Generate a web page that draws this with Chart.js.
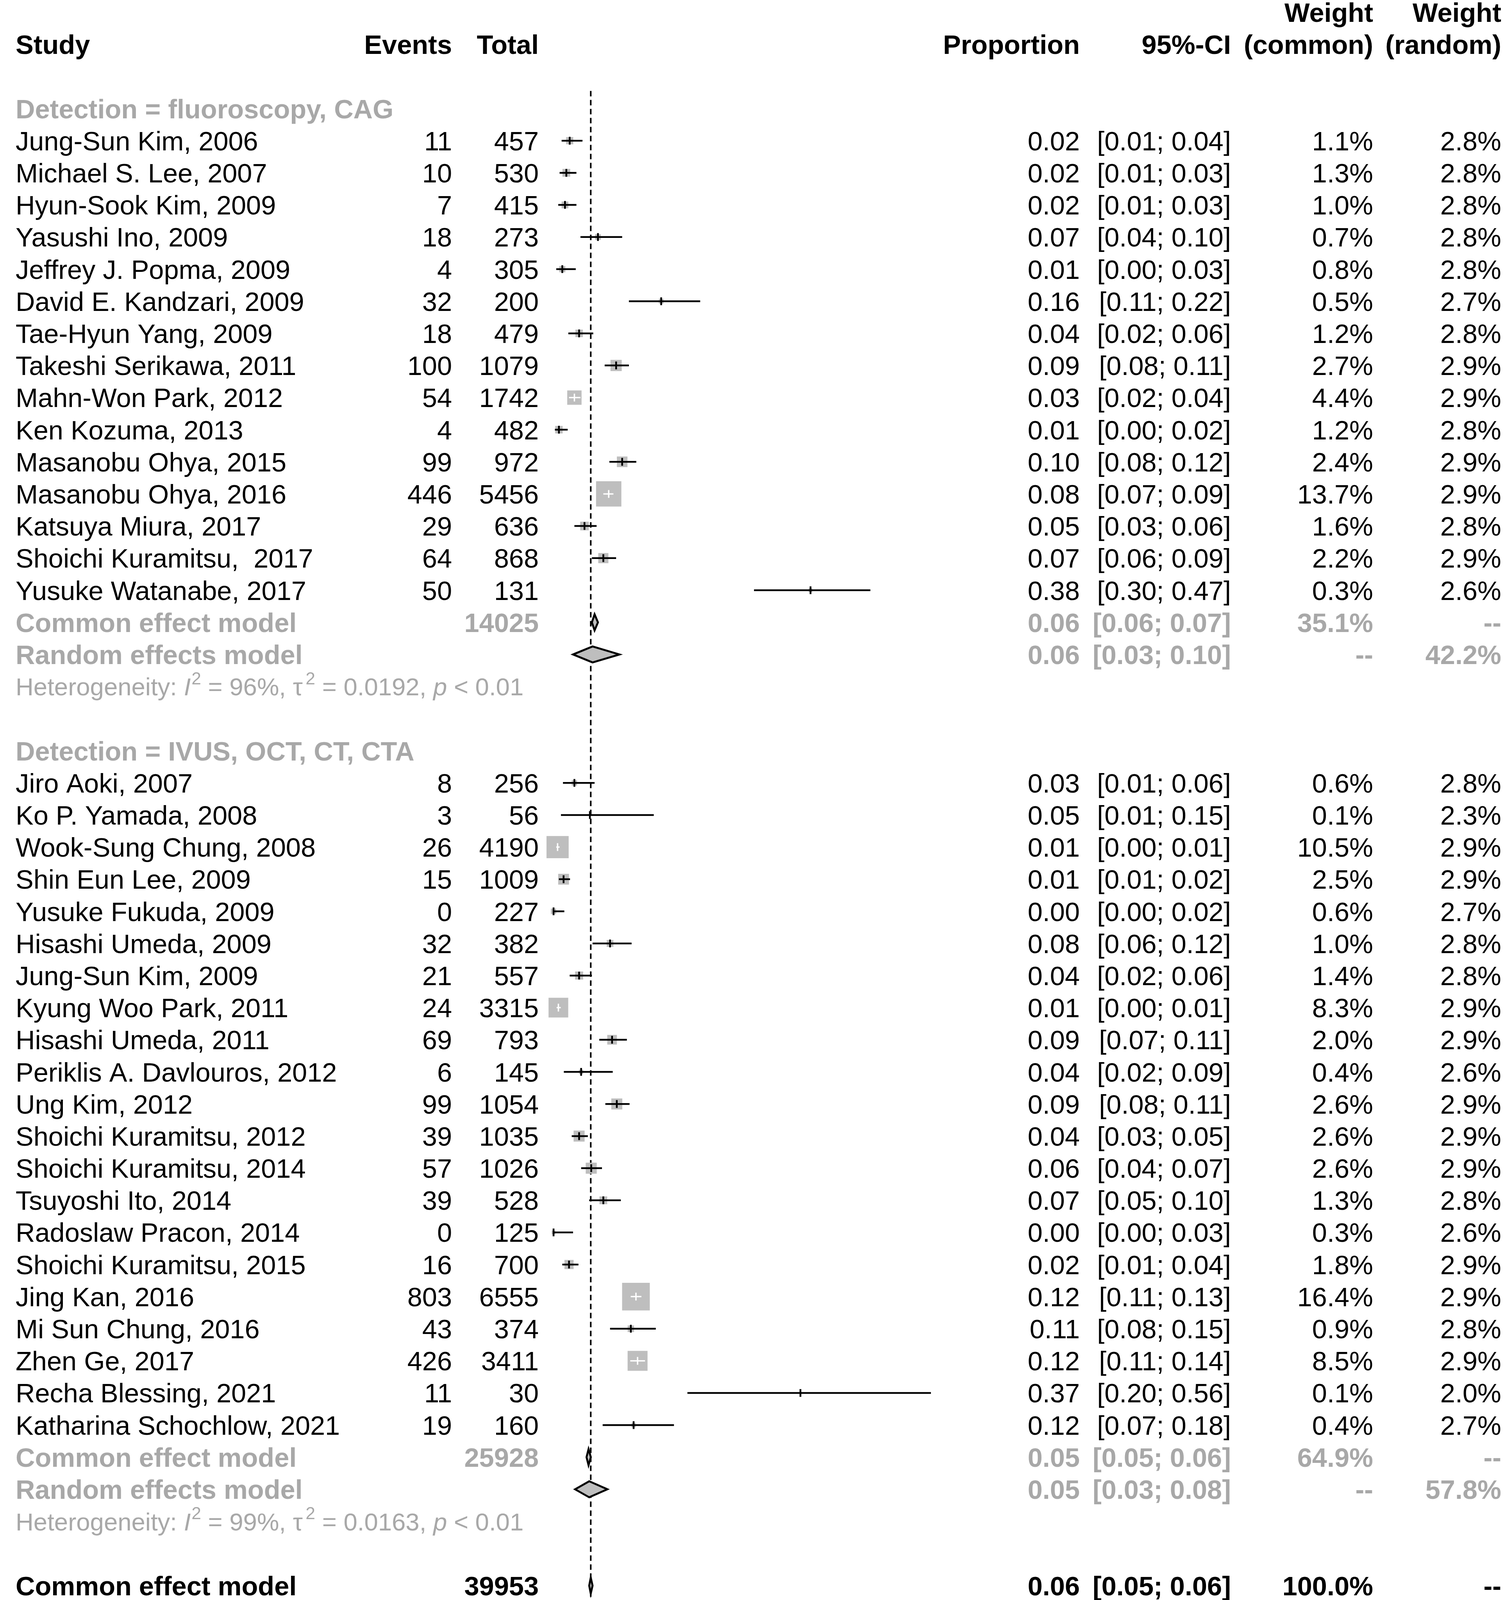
<!DOCTYPE html>
<html>
<head>
<meta charset="utf-8">
<script src="https://cdn.jsdelivr.net/npm/chart.js@4.4.1/dist/chart.umd.min.js"></script>
<style>
  html, body { margin: 0; padding: 0; background: #fff; }
  #wrap { width: 3850px; height: 4590px; }
</style>
</head>
<body>
<div id="wrap"><canvas id="forest" width="3850" height="4590"></canvas></div>
<script>
// ---- data: Detection = fluoroscopy, CAG ----
const names1 = ['Jung-Sun Kim, 2006', 'Michael S. Lee, 2007', 'Hyun-Sook Kim, 2009', 'Yasushi Ino, 2009',
  'Jeffrey J. Popma, 2009', 'David E. Kandzari, 2009', 'Tae-Hyun Yang, 2009', 'Takeshi Serikawa, 2011',
  'Mahn-Won Park, 2012', 'Ken Kozuma, 2013', 'Masanobu Ohya, 2015', 'Masanobu Ohya, 2016',
  'Katsuya Miura, 2017', 'Shoichi Kuramitsu,  2017', 'Yusuke Watanabe, 2017'];
const events1 = [11, 10, 7, 18, 4, 32, 18, 100, 54, 4, 99, 446, 29, 64, 50];
const totals1 = [457, 530, 415, 273, 305, 200, 479, 1079, 1742, 482, 972, 5456, 636, 868, 131];
const est1 = [0.024, 0.019, 0.017, 0.066, 0.013, 0.160, 0.038, 0.093, 0.031, 0.008, 0.102, 0.082, 0.046, 0.074, 0.382];
const lower1 = [0.012, 0.009, 0.007, 0.040, 0.004, 0.112, 0.022, 0.076, 0.023, 0.002, 0.083, 0.074, 0.031, 0.057, 0.298];
const upper1 = [0.043, 0.034, 0.034, 0.102, 0.033, 0.218, 0.059, 0.112, 0.040, 0.021, 0.123, 0.089, 0.064, 0.093, 0.471];
const wCommon1 = [1.1, 1.3, 1.0, 0.7, 0.8, 0.5, 1.2, 2.7, 4.4, 1.2, 2.4, 13.7, 1.6, 2.2, 0.3];
const wRandom1 = [2.8, 2.8, 2.8, 2.8, 2.8, 2.7, 2.8, 2.9, 2.9, 2.8, 2.9, 2.9, 2.8, 2.9, 2.6];

// ---- data: Detection = IVUS, OCT, CT, CTA ----
const names2 = ['Jiro Aoki, 2007', 'Ko P. Yamada, 2008', 'Wook-Sung Chung, 2008', 'Shin Eun Lee, 2009',
  'Yusuke Fukuda, 2009', 'Hisashi Umeda, 2009', 'Jung-Sun Kim, 2009', 'Kyung Woo Park, 2011',
  'Hisashi Umeda, 2011', 'Periklis A. Davlouros, 2012', 'Ung Kim, 2012', 'Shoichi Kuramitsu, 2012',
  'Shoichi Kuramitsu, 2014', 'Tsuyoshi Ito, 2014', 'Radoslaw Pracon, 2014', 'Shoichi Kuramitsu, 2015',
  'Jing Kan, 2016', 'Mi Sun Chung, 2016', 'Zhen Ge, 2017', 'Recha Blessing, 2021', 'Katharina Schochlow, 2021'];
const events2 = [8, 3, 26, 15, 0, 32, 21, 24, 69, 6, 99, 39, 57, 39, 0, 16, 803, 43, 426, 11, 19];
const totals2 = [256, 56, 4190, 1009, 227, 382, 557, 3315, 793, 145, 1054, 1035, 1026, 528, 125, 700, 6555, 374, 3411, 30, 160];
const est2 = [0.031, 0.054, 0.006, 0.0149, 0, 0.084, 0.038, 0.0072, 0.087, 0.041, 0.094, 0.038, 0.056, 0.074, 0, 0.023, 0.1225, 0.1149, 0.1249, 0.367, 0.119];
const lower2 = [0.014, 0.011, 0.004, 0.008, 0, 0.058, 0.024, 0.0046, 0.068, 0.0153, 0.077, 0.027, 0.041, 0.053, 0, 0.013, 0.1147, 0.084, 0.114, 0.199, 0.073];
const upper2 = [0.061, 0.149, 0.009, 0.0245, 0.016, 0.116, 0.057, 0.0107, 0.109, 0.088, 0.113, 0.051, 0.072, 0.100, 0.029, 0.037, 0.1306, 0.152, 0.136, 0.561, 0.179];
const wCommon2 = [0.6, 0.1, 10.5, 2.5, 0.6, 1.0, 1.4, 8.3, 2.0, 0.4, 2.6, 2.6, 2.6, 1.3, 0.3, 1.8, 16.4, 0.9, 8.5, 0.1, 0.4];
const wRandom2 = [2.8, 2.3, 2.9, 2.9, 2.7, 2.8, 2.8, 2.9, 2.9, 2.6, 2.9, 2.9, 2.9, 2.8, 2.6, 2.9, 2.9, 2.8, 2.9, 2.0, 2.7];

// ---- pooled: subgroup 1, subgroup 2, overall ----
const subgroupLabels = ['Detection = fluoroscopy, CAG', 'Detection = IVUS, OCT, CT, CTA'];
const pooledTotal = [14025, 25928, 39953];
const commonEst = [0.061, 0.052, 0.0553];
const commonLower = [0.057, 0.049, 0.053];
const commonUpper = [0.066, 0.0554, 0.058];
const randomEst = [0.058, 0.053, 0.056];
const randomLower = [0.029, 0.032, 0.036];
const randomUpper = [0.098, 0.080, 0.077];
const commonWeightSum = [35.1, 64.9, 100.0];
const randomWeightSum = [42.2, 57.8, 100.0];
const hetI2 = [96, 99, 98];
const hetTau2 = ['0.0192', '0.0163', '0.0171'];
const hetP = ['< 0.01', '< 0.01', '= 0'];

const testLabels = ['fixed effect', 'random effects'];
const testChi2 = ['9.98', '0.17'];
const testDf = [1, 1];
const testP = ['< 0.01', '= 0.68'];

const tickValues = [0, 0.1, 0.2, 0.3, 0.4, 0.5];
const tickLabels = ['0', '0.1', '0.2', '0.3', '0.4', '0.5'];

// ---- layout ----
const FONT = '"Liberation Sans", Arial, Helvetica, sans-serif';
const TXT = 68.5, HET = 63.5;
const BLACK = '#000000', GREY = '#a8a8a8', SQUARE = '#bebebe';
const col = { study: 40, events: 1157, total: 1379, prop: 2764, ci: 3151, wCommon: 3515, wRandom: 3843 };
const subRow = [0, 20], firstRow = [1, 21];
const commonRow = [16, 42, 46], randomRow = [17, 43, 47], hetRow = [18, 44, 48];
const testRow = [50.9, 51.9];
const headRow1 = -3, headRow2 = -2;

const groups = [
  { names: names1, events: events1, totals: totals1, est: est1, lo: lower1, hi: upper1, wc: wCommon1, wr: wRandom1 },
  { names: names2, events: events2, totals: totals2, est: est2, lo: lower2, hi: upper2, wc: wCommon2, wr: wRandom2 },
];

const f2 = v => v.toFixed(2);
const ciStr = (lo, hi) => '[' + f2(lo) + '; ' + f2(hi) + ']';
const pct = w => w.toFixed(1) + '%';
const boxSide = w => 17.5 * Math.sqrt(w);

const studyPoints = [];
groups.forEach((g, gi) => {
  g.names.forEach((n, i) => {
    studyPoints.push({ x: g.est[i], y: firstRow[gi] + i, lo: g.lo[i], hi: g.hi[i], w: g.wc[i] });
  });
});

function txt(ctx, s, x, y, size, opts) {
  opts = opts || {};
  ctx.font = (opts.bold ? 'bold ' : '') + size + 'px ' + FONT;
  ctx.fillStyle = opts.color || BLACK;
  ctx.textAlign = opts.align || 'left';
  ctx.textBaseline = 'alphabetic';
  ctx.fillText(s, x, y + size * 0.358);
}

function rich(ctx, parts, x, y, size, color) {
  let cx = x;
  const base = y + size * 0.358;
  ctx.fillStyle = color;
  ctx.textAlign = 'left';
  ctx.textBaseline = 'alphabetic';
  parts.forEach(p => {
    if (p.stack) {
      const s = size * 0.7;
      ctx.font = s + 'px ' + FONT;
      ctx.fillText(p.stack[0], cx, base - size * 0.45);
      ctx.fillText(p.stack[1], cx, base + size * 0.3);
      cx += Math.max(ctx.measureText(p.stack[0]).width, ctx.measureText(p.stack[1]).width);
      return;
    }
    const s = p.sup ? size * 0.7 : size;
    ctx.font = (p.it ? 'italic ' : '') + s + 'px ' + FONT;
    cx += (p.padL || 0) * size;
    ctx.fillText(p.t, cx, p.sup ? base - size * 0.45 : base);
    cx += ctx.measureText(p.t).width;
  });
}

function hetParts(i) {
  return [
    { t: 'Heterogeneity: ' }, { t: 'I', it: true }, { t: '2', sup: true, padL: 0.03 },
    { t: ' = ' + hetI2[i] + '%, ' }, { t: 'τ' }, { t: '2', sup: true, padL: 0.12 },
    { t: ' = ' + hetTau2[i] + ', ' }, { t: 'p', it: true }, { t: ' ' + hetP[i] },
  ];
}

function testParts(i) {
  return [
    { t: 'Test for subgroup differences (' + testLabels[i] + '): ' }, { t: 'χ' }, { stack: ['2', '1'] },
    { t: ' = ' + testChi2[i] + ', df = ' + testDf[i] + ' (' }, { t: 'p', it: true }, { t: ' ' + testP[i] + ')' },
  ];
}

function diamond(ctx, xs, ys, est, lo, hi, row) {
  const y = ys.getPixelForValue(row), h = 20.5;
  ctx.beginPath();
  ctx.moveTo(xs.getPixelForValue(lo), y);
  ctx.lineTo(xs.getPixelForValue(est), y - h);
  ctx.lineTo(xs.getPixelForValue(hi), y);
  ctx.lineTo(xs.getPixelForValue(est), y + h);
  ctx.closePath();
  ctx.fillStyle = SQUARE;
  ctx.fill();
  ctx.lineWidth = 5;
  ctx.strokeStyle = BLACK;
  ctx.lineJoin = 'miter';
  ctx.stroke();
}

const forestPlugin = {
  id: 'forest',
  beforeDatasetsDraw(chart) {
    const { ctx, scales: { x, y } } = chart;
    ctx.save();
    // reference line at the overall common effect estimate
    ctx.strokeStyle = BLACK;
    ctx.lineWidth = 4;
    ctx.setLineDash([14, 9]);
    const px = x.getPixelForValue(commonEst[2]);
    ctx.beginPath();
    ctx.moveTo(px, y.getPixelForValue(-0.55));
    ctx.lineTo(px, y.getPixelForValue(46.75));
    ctx.stroke();
    ctx.restore();
  },
  afterDatasetsDraw(chart) {
    const { ctx, scales: { x, y } } = chart;
    ctx.save();
    ctx.lineCap = 'butt';
    studyPoints.forEach(p => {
      const x1 = x.getPixelForValue(p.lo), x2 = x.getPixelForValue(p.hi);
      const xc = x.getPixelForValue(p.x), yc = y.getPixelForValue(p.y);
      const inside = boxSide(p.w) > (x2 - x1);
      ctx.strokeStyle = inside ? '#ffffff' : BLACK;
      ctx.lineWidth = inside ? 3.5 : 4.5;
      ctx.beginPath();
      ctx.moveTo(x1, yc); ctx.lineTo(x2, yc);
      ctx.moveTo(xc, yc - 10); ctx.lineTo(xc, yc + 10);
      ctx.stroke();
    });
    for (let k = 0; k < 3; k++) {
      diamond(ctx, x, y, commonEst[k], commonLower[k], commonUpper[k], commonRow[k]);
      diamond(ctx, x, y, randomEst[k], randomLower[k], randomUpper[k], randomRow[k]);
    }
    // axis line from 0 to 0.5
    ctx.strokeStyle = BLACK;
    ctx.lineWidth = 5;
    ctx.beginPath();
    ctx.moveTo(x.getPixelForValue(tickValues[0]) - 2, chart.chartArea.bottom);
    ctx.lineTo(x.getPixelForValue(tickValues[tickValues.length - 1]) + 2, chart.chartArea.bottom);
    ctx.stroke();
    ctx.restore();
  },
  afterDraw(chart) {
    const { ctx, scales: { y } } = chart;
    const Y = r => y.getPixelForValue(r);
    ctx.save();
    // header
    const hb = { bold: true };
    txt(ctx, 'Study', col.study, Y(headRow2), TXT, hb);
    txt(ctx, 'Events', col.events, Y(headRow2), TXT, { bold: true, align: 'right' });
    txt(ctx, 'Total', col.total, Y(headRow2), TXT, { bold: true, align: 'right' });
    txt(ctx, 'Proportion', col.prop, Y(headRow2), TXT, { bold: true, align: 'right' });
    txt(ctx, '95%-CI', col.ci, Y(headRow2), TXT, { bold: true, align: 'right' });
    txt(ctx, 'Weight', col.wCommon, Y(headRow1), TXT, { bold: true, align: 'right' });
    txt(ctx, '(common)', col.wCommon, Y(headRow2), TXT, { bold: true, align: 'right' });
    txt(ctx, 'Weight', col.wRandom, Y(headRow1), TXT, { bold: true, align: 'right' });
    txt(ctx, '(random)', col.wRandom, Y(headRow2), TXT, { bold: true, align: 'right' });

    groups.forEach((g, gi) => {
      txt(ctx, subgroupLabels[gi], col.study, Y(subRow[gi]), TXT, { bold: true, color: GREY });
      g.names.forEach((n, i) => {
        const yy = Y(firstRow[gi] + i);
        txt(ctx, n, col.study, yy, TXT);
        txt(ctx, String(g.events[i]), col.events, yy, TXT, { align: 'right' });
        txt(ctx, String(g.totals[i]), col.total, yy, TXT, { align: 'right' });
        txt(ctx, f2(g.est[i]), col.prop, yy, TXT, { align: 'right' });
        txt(ctx, ciStr(g.lo[i], g.hi[i]), col.ci, yy, TXT, { align: 'right' });
        txt(ctx, pct(g.wc[i]), col.wCommon, yy, TXT, { align: 'right' });
        txt(ctx, pct(g.wr[i]), col.wRandom, yy, TXT, { align: 'right' });
      });
    });

    for (let k = 0; k < 3; k++) {
      const c = k < 2 ? GREY : BLACK;
      const o = { bold: true, color: c, align: 'right' };
      let yy = Y(commonRow[k]);
      txt(ctx, 'Common effect model', col.study, yy, TXT, { bold: true, color: c });
      txt(ctx, String(pooledTotal[k]), col.total, yy, TXT, o);
      txt(ctx, f2(commonEst[k]), col.prop, yy, TXT, o);
      txt(ctx, ciStr(commonLower[k], commonUpper[k]), col.ci, yy, TXT, o);
      txt(ctx, pct(commonWeightSum[k]), col.wCommon, yy, TXT, o);
      txt(ctx, '--', col.wRandom, yy, TXT, o);
      yy = Y(randomRow[k]);
      txt(ctx, 'Random effects model', col.study, yy, TXT, { bold: true, color: c });
      txt(ctx, f2(randomEst[k]), col.prop, yy, TXT, o);
      txt(ctx, ciStr(randomLower[k], randomUpper[k]), col.ci, yy, TXT, o);
      txt(ctx, '--', col.wCommon, yy, TXT, o);
      txt(ctx, pct(randomWeightSum[k]), col.wRandom, yy, TXT, o);
      rich(ctx, hetParts(k), col.study, Y(hetRow[k]), HET, c);
    }

    testRow.forEach((r, i) => rich(ctx, testParts(i), 9, Y(r), HET, BLACK));
    ctx.restore();
  }
};

new Chart(document.getElementById('forest'), {
  type: 'scatter',
  data: {
    datasets: [{
      data: studyPoints,
      pointStyle: 'rect',
      pointRadius: c => boxSide(c.raw.w) / Math.SQRT2,
      pointHoverRadius: c => boxSide(c.raw.w) / Math.SQRT2,
      backgroundColor: SQUARE,
      borderColor: SQUARE,
      borderWidth: 0,
      clip: false,
    }]
  },
  options: {
    responsive: false,
    devicePixelRatio: 1,
    animation: false,
    events: [],
    layout: { autoPadding: false, padding: { left: 1244.8, right: 1399.8, top: 31.4, bottom: 284.8 } },
    plugins: { legend: { display: false }, tooltip: { enabled: false } },
    scales: {
      x: {
        type: 'linear',
        min: -0.1,
        max: 0.6,
        position: 'bottom',
        border: { display: false },
        grid: { display: true, drawOnChartArea: false, drawTicks: true, tickLength: 40, color: BLACK, lineWidth: 4 },
        afterBuildTicks: axis => { axis.ticks = tickValues.map(v => ({ value: v })); },
        ticks: {
          autoSkip: false,
          maxRotation: 0,
          padding: 0,
          color: BLACK,
          font: { family: FONT, size: 66 },
          callback: (v, i) => tickLabels[i],
        },
      },
      y: {
        type: 'linear',
        display: false,
        reverse: true,
        min: headRow1,
        max: 47.543,
      }
    }
  },
  plugins: [forestPlugin]
});
</script>
</body>
</html>
